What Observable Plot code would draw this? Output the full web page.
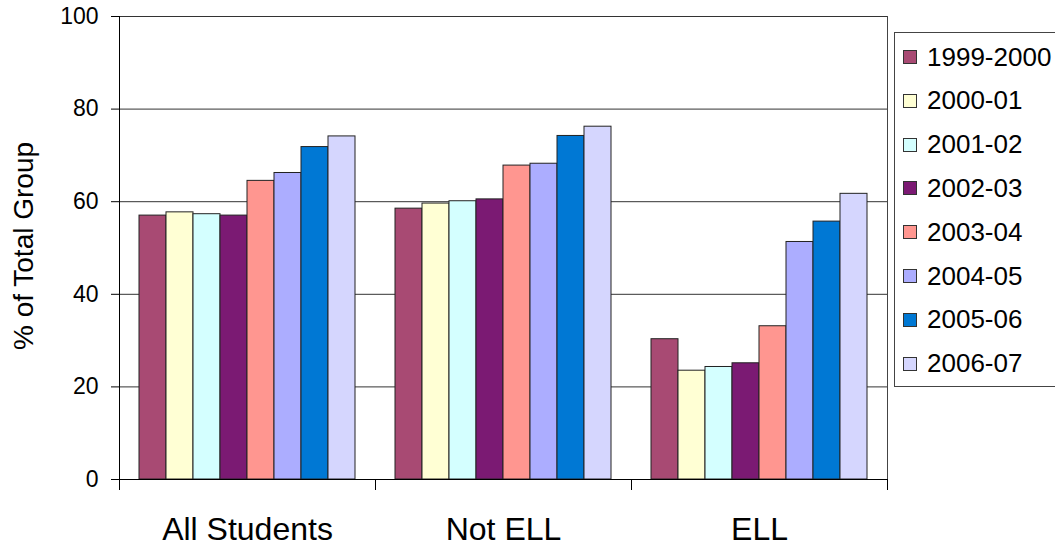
<!DOCTYPE html>
<html>
<head>
<meta charset="utf-8">
<script src="https://cdn.jsdelivr.net/npm/d3@7"></script>
<script src="https://cdn.jsdelivr.net/npm/@observablehq/plot@0.6"></script>
<style>
  body { margin: 0; background: #fff; font-family: "Liberation Sans", Arial, sans-serif; }
  #wrap { position: relative; width: 1055px; height: 547px; overflow: hidden; }
  #legend { position: absolute; left: 894px; top: 32px; width: 175px; height: 355px;
            border: 1px solid #444; box-sizing: border-box; background: #fff; }
  .item { position: absolute; left: 8px; height: 26px; display: flex; align-items: center;
          font-size: 26px; color: #000; white-space: nowrap; }
  .sw { width: 12px; height: 12px; border: 1px solid #333; margin-right: 10px; flex: none; }
</style>
</head>
<body>
<div id="wrap"></div>
<script>
// Student groups and school years
const groups = ["All Students", "Not ELL", "ELL"];
const years = ["1999-2000", "2000-01", "2001-02", "2002-03", "2003-04", "2004-05", "2005-06", "2006-07"];

// Percent of each group, one value per school year
const allStudents = [57.0, 57.7, 57.3, 57.0, 64.5, 66.2, 71.8, 74.1];
const notELL      = [58.5, 59.6, 60.1, 60.5, 67.8, 68.2, 74.2, 76.2];
const ell         = [30.3, 23.5, 24.3, 25.1, 33.1, 51.3, 55.7, 61.7];

const yTicks = [0, 20, 40, 60, 80, 100];
const yLabel = "% of Total Group";
const colors = ["#a84a73", "#ffffd4", "#d4ffff", "#7b1a73", "#ff9690", "#acadff", "#0078d4", "#d5d6fe"];

const series = [allStudents, notELL, ell];
const data = groups.flatMap((g, gi) =>
  years.map((year, i) => ({group: g, year, value: series[gi][i]})));

// Small tick marks below the axis at the edges of each group
const groupTicks = (index, scales) => {
  const [x0, x1] = scales.x.range();
  const y0 = scales.y(0);
  const g = d3.create("svg:g").attr("stroke", "#000");
  for (const x of [x0, x1]) {
    g.append("line")
      .attr("x1", Math.round(x) + 0.5).attr("x2", Math.round(x) + 0.5)
      .attr("y1", y0).attr("y2", y0 + 11);
  }
  return g.node();
};

const chart = Plot.plot({
  width: 1055,
  height: 547,
  marginLeft: 118,
  marginRight: 167,
  marginTop: 16,
  marginBottom: 68,
  style: {fontFamily: "'Liberation Sans', Arial, sans-serif", background: "#fff", color: "#000"},
  fx: {domain: groups, padding: 0, label: null},
  x: {domain: years, paddingInner: 0, paddingOuter: 0.72, axis: null},
  y: {domain: [0, 100], label: null},
  color: {domain: years, range: colors},
  marks: [
    Plot.ruleY(yTicks.slice(1), {stroke: "#333"}),
    Plot.barY(data, {fx: "group", x: "year", y: "value", fill: "year", stroke: "#222", strokeWidth: 1}),
    Plot.ruleY([0], {stroke: "#000"}),
    Plot.frame({anchor: "left", facetAnchor: "left", stroke: "#000"}),
    Plot.frame({anchor: "right", facetAnchor: "right", stroke: "#444"}),
    groupTicks,
    Plot.axisY({ticks: yTicks, tickSize: 8, tickPadding: 13, fontSize: 23, label: null}),
    Plot.axisFx({anchor: "bottom", tickSize: 0, tickPadding: 38, fontSize: 32, label: null})
  ]
});

// Rotated y-axis title
d3.select(chart).append("text")
  .attr("transform", "translate(33,246) rotate(-90)")
  .attr("text-anchor", "middle")
  .attr("font-size", 28)
  .attr("fill", "#000")
  .text(yLabel);

const wrap = document.getElementById("wrap");
wrap.appendChild(chart);

// Legend box on the right
const legend = d3.select(wrap).append("div").attr("id", "legend");
years.forEach((year, i) => {
  const item = legend.append("div").attr("class", "item")
    .style("top", `${11 + i * 43.8}px`);
  item.append("div").attr("class", "sw").style("background", colors[i]);
  item.append("span").text(year);
});
</script>
</body>
</html>
